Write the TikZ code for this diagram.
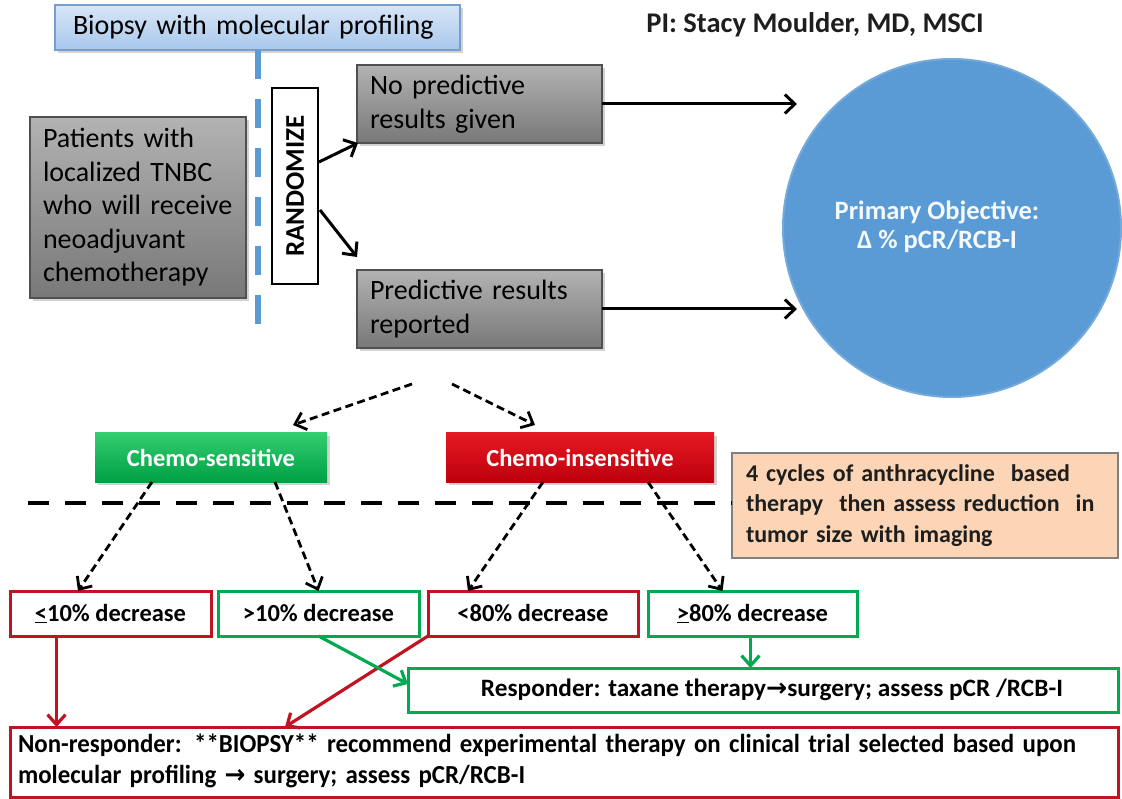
\documentclass[tikz,border=0pt]{standalone}
\usepackage{fontspec}
\setmainfont{Carlito}
\newfontfamily\arrowfont{DejaVu Sans}
\usetikzlibrary{arrows.meta,shadows,calc}
\definecolor{grayedge}{RGB}{80,80,80}
\definecolor{bluefillA}{RGB}{216,230,246}
\definecolor{bluefillB}{RGB}{168,199,236}
\definecolor{blueedge}{RGB}{120,158,205}
\definecolor{dashblue}{RGB}{91,155,213}
\definecolor{circblue}{RGB}{91,155,213}
\definecolor{myred}{RGB}{192,20,35}
\definecolor{mygreen}{RGB}{0,170,80}
\definecolor{peach}{RGB}{251,213,181}
\definecolor{greenA}{RGB}{50,205,110}
\definecolor{greenB}{RGB}{0,160,70}
\definecolor{redA}{RGB}{228,25,35}
\definecolor{redB}{RGB}{190,0,12}
\definecolor{darktext}{RGB}{30,30,30}
\begin{document}
\begin{tikzpicture}[x=1pt,y=-1pt,
  box/.style={anchor=north west, outer sep=0pt, inner ysep=0pt},
  shad/.style={drop shadow={shadow xshift=3pt,shadow yshift=-3pt,opacity=0.35}},
  graybox/.style={box, shad, draw=grayedge, line width=1.2pt, top color=black!30, bottom color=black!53,
    align=left, inner xsep=13pt, font=\fontsize{28}{33.5}\selectfont},
  bluebox/.style={box, shad, draw=blueedge, line width=1.5pt, top color=bluefillA, bottom color=bluefillB,
    align=left, inner xsep=18pt, text width=369pt, minimum height=45pt, font=\fontsize{28}{33}\selectfont},
  randbox/.style={draw=black, line width=2pt, fill=white, rotate=90, minimum width=196pt, minimum height=46pt,
    inner sep=0pt, font=\bfseries\fontsize{27}{32}\selectfont},
  chemobox/.style={box, shad, minimum height=49pt, text=white, font=\bfseries\fontsize{24.5}{28}\selectfont},
  decbox/.style={box, fill=white, line width=3pt, minimum height=45pt, inner xsep=0pt, font=\bfseries\fontsize{24.5}{28}\selectfont},
  arr/.style={line width=3pt, -{Straight Barb[length=10pt,width=19pt]}},
  dasharr/.style={line width=2.8pt, dash pattern=on 8pt off 4.5pt, -{Straight Barb[length=10pt,width=18pt]}},
  redarr/.style={myred, line width=3.2pt, -{Straight Barb[length=10pt,width=18pt]}},
  greenarr/.style={mygreen, line width=3.2pt, -{Straight Barb[length=10pt,width=18pt]}}
]
\useasboundingbox (0,0) rectangle (1122,799);
\fill[white] (0,0) rectangle (1122,799);

% top
\node[bluebox] (biopsy) at (55,5) {Biopsy with molecular profiling};
\node[font=\bfseries\fontsize{28.5}{33}\selectfont, text=darktext, anchor=base] (pi) at (815,33) {PI: Stacy Moulder, MD, MSCI};
\draw[dashblue, line width=6pt, dash pattern=on 29pt off 20pt] (biopsy.south) -- ++(0,280);

\node[graybox, text width=190pt, minimum height=181pt] (pat) at (30,117)
  {Patients with\\localized TNBC\\who will receive\\neoadjuvant\\chemotherapy};
\node[randbox] (rand) at (295,186) {RANDOMIZE};
\node[graybox, text width=219pt, minimum height=78pt] (nopred) at (357,65) {No predictive\\results given};
\node[graybox, text width=219pt, minimum height=78pt] (pred) at (357,270) {Predictive results\\reported};

\draw[arr] ([shift={(24pt,24pt)}]rand.center) -- ([xshift=1pt]nopred.south west);
\draw[arr] ([shift={(25pt,-24pt)}]rand.center) -- ([yshift=13pt]pred.north west);

\node[circle, fill=circblue, draw=circblue!85!white, line width=2pt, minimum size=338pt, inner sep=0pt] (obj) at (952,228) {};
\node[font=\bfseries\fontsize{26.5}{29}\selectfont, text=white!94!circblue, align=center] (objtxt) at (937,227)
  {Primary Objective:\\Δ \% pCR/RCB-I};

\draw[arr] (nopred.east) -- ++(195,0);
\draw[arr] (pred.east) -- ++(195,0);

% chemo boxes
\node[chemobox, top color=greenA, bottom color=greenB, minimum width=232pt] (cs) at (95,433) {Chemo-sensitive};
\node[chemobox, top color=redA, bottom color=redB, minimum width=268pt] (ci) at (446,433) {Chemo-insensitive};

\draw[dasharr] ([shift={(-67.5pt,-36pt)}]pred.south) -- ([shift={(82pt,8pt)}]cs.north);
\draw[dasharr] ([shift={(-27.5pt,-36pt)}]pred.south) -- ([shift={(-45pt,8pt)}]ci.north);

% note
\node[box, draw=black!50, line width=1.2pt, fill=peach, text width=358pt, minimum height=105pt, inner xsep=14pt,
  align=left, text=darktext, font=\bfseries\fontsize{24}{30.5}\selectfont] (note) at (732,453)
  {4 cycles of anthracycline\ \ based\\therapy\ \ then assess reduction\ \ in\\tumor size with imaging};
\coordinate (dl) at (28,503);
\draw[line width=4.5pt, dash pattern=on 21pt off 16pt] (dl) -- (dl -| note.west);

% decrease boxes
\node[decbox, draw=myred, minimum width=201pt] (le10) at (10,591) {\underline{<}10\% decrease};
\node[decbox, draw=mygreen, minimum width=201pt] (gt10) at (218,591) {>10\% decrease};
\node[decbox, draw=myred, minimum width=210pt] (lt80) at (428,591) {<80\% decrease};
\node[decbox, draw=mygreen, minimum width=209pt] (ge80) at (648,591) {\underline{>}80\% decrease};

\draw[dasharr] ([xshift=-59pt]cs.south) -- ([xshift=-32.5pt]le10.north);
\draw[dasharr] ([xshift=64pt]cs.south) -- (gt10.north);
\draw[dasharr] ([xshift=-37pt]ci.south) -- ([xshift=-65pt]lt80.north);
\draw[dasharr] ([xshift=68pt]ci.south) -- ([xshift=-30pt]ge80.north);

% outcome boxes
\node[box, draw=mygreen, line width=3pt, fill=white, minimum width=710pt, minimum height=44pt, inner xsep=0pt,
  font=\bfseries\fontsize{25}{28}\selectfont] (resp) at (408,668)
  {\hspace*{18pt}\resizebox{582pt}{\height}{Responder: taxane therapy{\arrowfont\bfseries →}surgery; assess pCR /RCB-I}};
\node[box, draw=myred, line width=3pt, fill=white, minimum width=1108pt, minimum height=70pt, inner xsep=8pt,
  text width=1092pt, align=left, font=\bfseries\fontsize{26}{31}\selectfont] (nonr) at (10,727)
  {\resizebox{1058pt}{\height}{\begin{tabular}{@{}l@{}}Non-responder: **BIOPSY** recommend experimental therapy on clinical trial selected based upon\\molecular profiling {\arrowfont\bfseries →} surgery; assess pCR/RCB-I\end{tabular}}};

\draw[redarr] ([xshift=-54pt]le10.south) -- ([xshift=-54pt]le10.south |- nonr.north);
\draw[redarr] (lt80.south west) -- ([xshift=-279pt]nonr.north);
\draw[greenarr] (gt10.south) -- ([yshift=6pt]resp.west);
\draw[greenarr] ([xshift=-2pt]ge80.south) -- ([xshift=-2pt]ge80.south |- resp.north);
\end{tikzpicture}
\end{document}
